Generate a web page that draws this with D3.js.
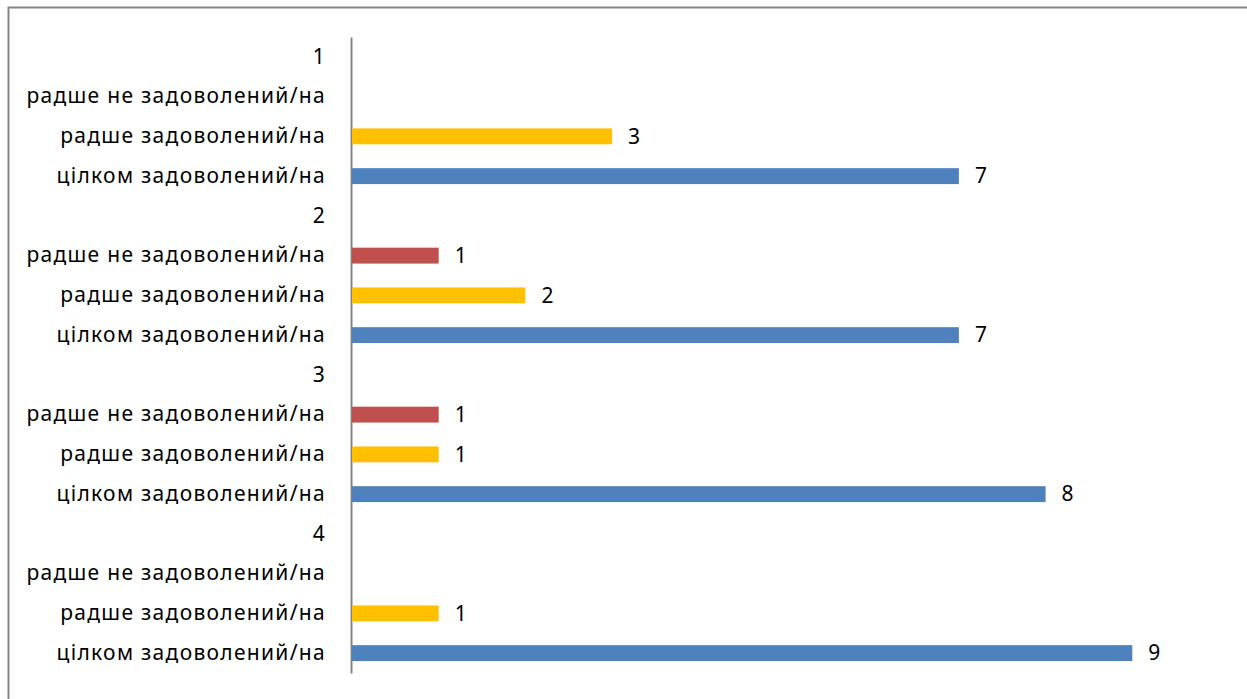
<!DOCTYPE html>
<html>
<head>
<meta charset="utf-8">
<script src="https://cdn.jsdelivr.net/npm/d3@7.9.0/dist/d3.min.js"></script>
<style>
  html, body { margin: 0; padding: 0; background: #fff; overflow: hidden; }
  svg { display: block; font-family: 'Noto Sans', 'Open Sans', sans-serif; }
</style>
</head>
<body>
<div id="chart"></div>
<script>
// groups (top to bottom) and answer levels inside each group
const groups = ['1', '2', '3', '4'];
const levels = ['радше не задоволений/на', 'радше задоволений/на', 'цілком задоволений/на'];
const levelColors = ['#C0504D', '#FFC000', '#4F81BD'];

// values per group, in the order of levels (null = no answer)
const values1 = [null, 3, 7];
const values2 = [1, 2, 7];
const values3 = [1, 1, 8];
const values4 = [null, 1, 9];
const groupValues = [values1, values2, values3, values4];

const width = 1247;
const height = 699;
const fontSize = 21;

// flatten into rows: a header row for each group, then one row per level
const rows = [];
groups.forEach((g, gi) => {
  rows.push({ id: `g${gi}`, label: g, value: null });
  levels.forEach((lvl, li) => {
    rows.push({ id: `g${gi}-${li}`, label: lvl, value: groupValues[gi][li], color: levelColors[li] });
  });
});

const svg = d3.select('#chart')
  .append('svg')
  .attr('width', width)
  .attr('height', height);

// chart area frame (cut off at right and bottom)
svg.append('rect')
  .attr('x', 8.5)
  .attr('y', 7.5)
  .attr('width', 1400)
  .attr('height', 900)
  .attr('fill', 'none')
  .attr('stroke', '#868686')
  .attr('stroke-width', 2);

const y = d3.scaleBand()
  .domain(rows.map(d => d.id))
  .range([37, 673])
  .paddingInner(0.6)
  .paddingOuter(0.3);

const x = d3.scaleLinear()
  .domain([0, 10])
  .range([352, 1219]);

// category axis
const yAxis = d3.axisLeft(y)
  .tickSize(0)
  .tickPadding(25)
  .tickFormat(id => rows.find(r => r.id === id).label);

const ax = svg.append('g')
  .attr('transform', `translate(${x(0) - 1},0)`)
  .call(yAxis);
ax.attr('font-family', null).attr('font-size', null);
ax.select('.domain')
  .attr('stroke', '#868686')
  .attr('stroke-width', 2);
ax.selectAll('text')
  .attr('font-size', fontSize)
  .attr('letter-spacing', '1.3px')
  .attr('fill', '#000');

const data = rows.filter(d => d.value != null);

svg.append('g')
  .selectAll('rect')
  .data(data)
  .join('rect')
  .attr('x', x(0))
  .attr('y', d => y(d.id))
  .attr('width', d => x(d.value) - x(0))
  .attr('height', y.bandwidth())
  .attr('fill', d => d.color);

svg.append('g')
  .selectAll('text')
  .data(data)
  .join('text')
  .attr('x', d => x(d.value) + 16)
  .attr('y', d => y(d.id) + y.bandwidth() / 2)
  .attr('dy', '0.35em')
  .attr('font-size', fontSize)
  .attr('fill', '#000')
  .text(d => d.value);
</script>
</body>
</html>
